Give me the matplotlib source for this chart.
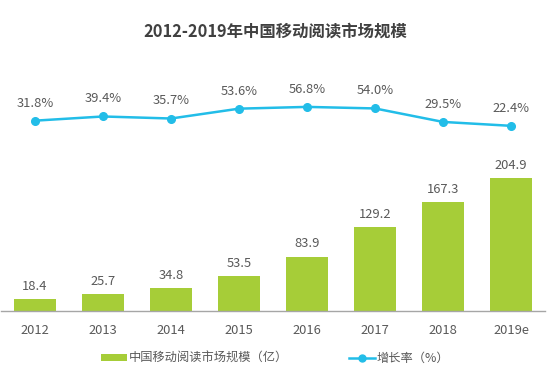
import matplotlib
matplotlib.use("Agg")
import matplotlib.pyplot as plt
from matplotlib.patches import Patch
from matplotlib.lines import Line2D

plt.rcParams['font.family'] = ['Noto Sans CJK SC', 'DejaVu Sans']

years = ['2012', '2013', '2014', '2015', '2016', '2017', '2018', '2019e']
market = [18.4, 25.7, 34.8, 53.5, 83.9, 129.2, 167.3, 204.9]
growth = [31.8, 39.4, 35.7, 53.6, 56.8, 54.0, 29.5, 22.4]

bar_color = '#a6cd38'
line_color = '#22bde8'
text_color = '#595959'
fs = 9.3

fig = plt.figure(figsize=(5.5, 3.7), dpi=100)
ax = fig.add_axes([1/550, (370-311)/370, 544/550, 251/370])
x = list(range(len(years)))
ax.bar(x, market, width=0.63, color=bar_color, zorder=2)
for xi, v in zip(x, market):
    ax.annotate(f'{v:.1f}', (xi, v), xytext=(0, 4.5), textcoords='offset points',
                ha='center', va='bottom', fontsize=fs, color=text_color)
ax.set_xlim(-0.5, len(years) - 0.5)
ax.set_ylim(0, 387)
ax.set_xticks(x)
ax.set_xticklabels(years, fontsize=fs, color=text_color)
ax.tick_params(axis='x', length=0, pad=9)
ax.set_yticks([])
for s in ['top', 'left', 'right']:
    ax.spines[s].set_visible(False)
ax.spines['bottom'].set_color('#a6a6a6')
ax.spines['bottom'].set_linewidth(1.0)
ax.patch.set_alpha(0)

ax2 = ax.twinx()
ax2.plot(x, growth, color=line_color, lw=1.8, marker='o', markersize=5.5, zorder=3)
for xi, v in zip(x, growth):
    ax2.annotate(f'{v:.1f}%', (xi, v), xytext=(0, 8), textcoords='offset points',
                 ha='center', va='bottom', fontsize=fs, color=text_color)
ax2.set_ylim(-314, 142)
ax2.set_yticks([])
for s in ['top', 'left', 'right', 'bottom']:
    ax2.spines[s].set_visible(False)

fig.text(0.5, 1 - 32/370, '2012-2019年中国移动阅读市场规模', ha='center', va='center',
         fontsize=11.8, fontweight='bold', color='#404040')

handles = [Patch(facecolor=bar_color, edgecolor='none'),
           Line2D([0], [0], color=line_color, lw=1.8, marker='o', markersize=5)]
labels = ['中国移动阅读市场规模（亿）', '增长率（%）']
fig.legend(handles, labels, loc='center', bbox_to_anchor=(0.5, 1 - 358/370), ncol=2,
           frameon=False, fontsize=8.8, labelcolor=text_color, handlelength=2.1,
           handleheight=0.5, handletextpad=0.15, columnspacing=5.0)

fig.savefig('out.png', dpi=100)
